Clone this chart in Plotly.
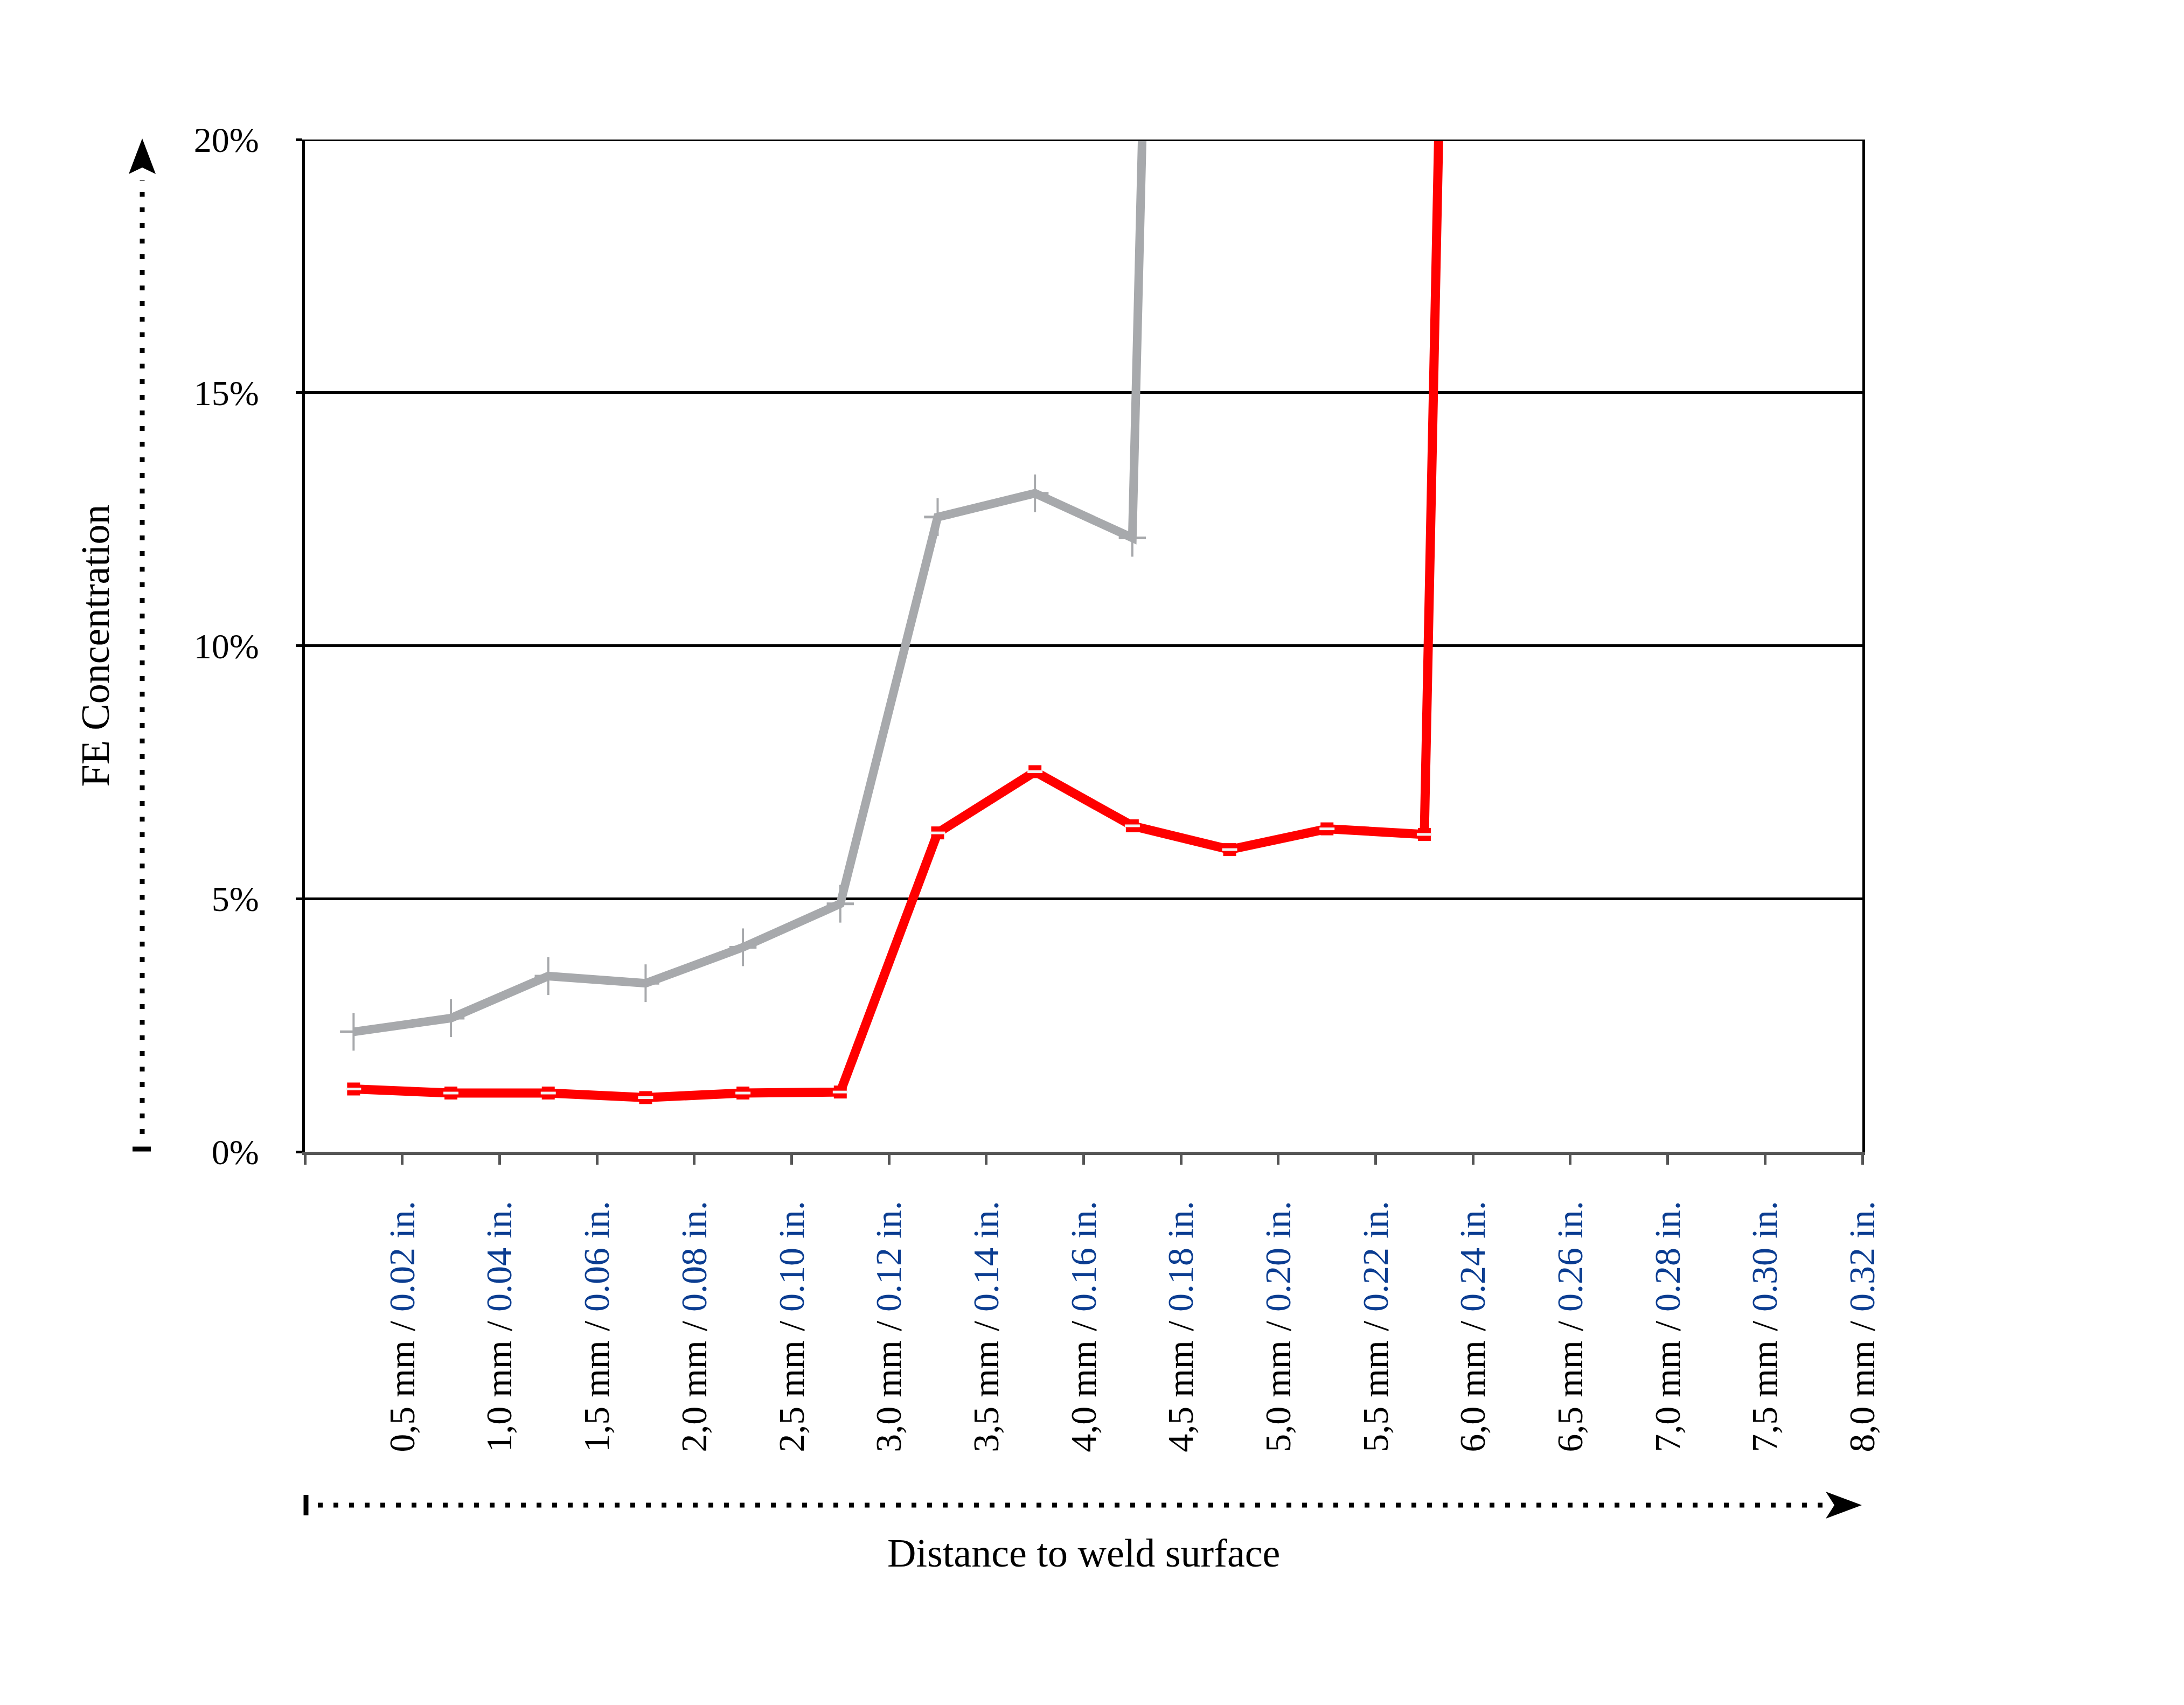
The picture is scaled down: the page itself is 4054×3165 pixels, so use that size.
import plotly.graph_objects as go

# ---------------- data ----------------
depth_mm = [0.25, 0.75, 1.25, 1.75, 2.25, 2.75, 3.25, 3.75, 4.25, 4.75, 5.25, 5.75, 6.25]
fe_gray = [2.37, 2.64, 3.47, 3.33, 4.04, 4.90, 12.54, 13.01, 12.13, 90.0]
fe_red = [1.24, 1.16, 1.16, 1.07, 1.16, 1.18, 6.30, 7.51, 6.44, 5.97, 6.38, 6.27, 100.0]

tick_mm = [0.5, 1.0, 1.5, 2.0, 2.5, 3.0, 3.5, 4.0, 4.5, 5.0, 5.5, 6.0, 6.5, 7.0, 7.5, 8.0]
tick_mm_text = ["0,5", "1,0", "1,5", "2,0", "2,5", "3,0", "3,5", "4,0",
                "4,5", "5,0", "5,5", "6,0", "6,5", "7,0", "7,5", "8,0"]
tick_in_text = ["0.02", "0.04", "0.06", "0.08", "0.10", "0.12", "0.14", "0.16",
                "0.18", "0.20", "0.22", "0.24", "0.26", "0.28", "0.30", "0.32"]
y_ticks = [0, 5, 10, 15, 20]
y_tick_text = ["0%", "5%", "10%", "15%", "20%"]

# ---------------- styling ----------------
W, H = 4054, 3165
L, R, T, B = 566, 3457, 259, 2138
FONT = "Liberation Serif"
GRAY = "#a7a9ac"
RED = "#ff0000"
BLUE = "#0b3d91"


def px(xp):
    return (xp - L) / (R - L)


def py(yp):
    return (B - yp) / (B - T)


fig = go.Figure()

n_gray = len(fe_gray)
gray_x = depth_mm[:n_gray]
# gray line
fig.add_trace(go.Scatter(x=gray_x, y=fe_gray, mode="lines",
                         line=dict(color=GRAY, width=16), showlegend=False, hoverinfo="skip"))
# gray cross markers
fig.add_trace(go.Scatter(x=gray_x[:-1], y=fe_gray[:-1], mode="markers",
                         marker=dict(symbol="line-ns-open", size=50, color=GRAY,
                                     line=dict(color=GRAY, width=4)),
                         showlegend=False, hoverinfo="skip"))
fig.add_trace(go.Scatter(x=gray_x[:-1], y=fe_gray[:-1], mode="markers",
                         marker=dict(symbol="line-ew-open", size=36, color=GRAY,
                                     line=dict(color=GRAY, width=5)),
                         showlegend=False, hoverinfo="skip"))

# red line
fig.add_trace(go.Scatter(x=depth_mm, y=fe_red, mode="lines",
                         line=dict(color=RED, width=17), showlegend=False, hoverinfo="skip"))
fig.add_trace(go.Scatter(x=depth_mm[:-1], y=fe_red[:-1], mode="markers",
                         marker=dict(symbol="square", size=24, color=RED, line=dict(width=0)),
                         showlegend=False, hoverinfo="skip"))
fig.add_trace(go.Scatter(x=depth_mm[:-1], y=fe_red[:-1], mode="markers",
                         marker=dict(symbol="line-ew-open", size=20, color="#f2f2f2",
                                     line=dict(color="#f2f2f2", width=5)),
                         showlegend=False, hoverinfo="skip"))

tickvals = [0.0] + tick_mm
ticktext = [""] + [f"{m} mm / <span style='color:{BLUE}'>{i} in.</span>"
                   for m, i in zip(tick_mm_text, tick_in_text)]

fig.update_layout(
    width=W, height=H, autosize=False,
    margin=dict(l=L, r=W - R, t=T, b=H - B, pad=0),
    paper_bgcolor="white", plot_bgcolor="white",
    font=dict(family=FONT, color="black"),
    xaxis=dict(range=[0, 8], tickmode="array", tickvals=tickvals, ticktext=ticktext,
               tickangle=-90, tickfont=dict(family=FONT, size=68, color="black"),
               ticks="outside", ticklen=18, tickwidth=5, tickcolor="#555555",
               showline=True, linecolor="#555555", linewidth=6,
               showgrid=False, zeroline=False, automargin=False, ticklabelstandoff=40),
    yaxis=dict(range=[0, 20], tickmode="array", tickvals=y_ticks, ticktext=y_tick_text,
               tickfont=dict(family=FONT, size=66, color="black"),
               ticks="outside", ticklen=12, tickwidth=5, tickcolor="black",
               showline=True, linecolor="black", linewidth=5, mirror=True,
               showgrid=True, gridcolor="black", gridwidth=5,
               zeroline=False, automargin=False, ticklabelstandoff=55),
)

shapes = []
# top gridline at 20 %
shapes.append(dict(type="line", xref="paper", yref="y", x0=px(L - 12), x1=px(R + 2), y0=20, y1=20,
                   line=dict(color="black", width=6), layer="above"))
# vertical dotted arrow (y)
ax_x = 264
shapes.append(dict(type="line", xref="paper", yref="paper",
                   x0=px(ax_x), x1=px(ax_x), y0=py(2105), y1=py(335),
                   line=dict(color="black", width=9, dash="9px,20px")))
shapes.append(dict(type="path", xref="paper", yref="paper",
                   path=(f"M {px(ax_x)} {py(257)} L {px(ax_x - 25)} {py(323)} "
                         f"L {px(ax_x)} {py(311)} L {px(ax_x + 25)} {py(323)} Z"),
                   fillcolor="black", line=dict(width=0)))
shapes.append(dict(type="line", xref="paper", yref="paper",
                   x0=px(246), x1=px(280), y0=py(2133), y1=py(2133),
                   line=dict(color="black", width=9)))
# horizontal dotted arrow (x)
ay = 2794
shapes.append(dict(type="line", xref="paper", yref="paper",
                   x0=px(590), x1=px(3395), y0=py(ay), y1=py(ay),
                   line=dict(color="black", width=9, dash="9px,20px")))
shapes.append(dict(type="path", xref="paper", yref="paper",
                   path=(f"M {px(3456)} {py(ay)} L {px(3389)} {py(ay - 25)} "
                         f"L {px(3405)} {py(ay)} L {px(3389)} {py(ay + 25)} Z"),
                   fillcolor="black", line=dict(width=0)))
shapes.append(dict(type="line", xref="paper", yref="paper",
                   x0=px(568), x1=px(568), y0=py(ay - 19), y1=py(ay + 19),
                   line=dict(color="black", width=9)))
fig.update_layout(shapes=shapes)

fig.add_annotation(text="FE Concentration", xref="paper", yref="paper",
                   x=px(176), y=0.5, xanchor="center", yanchor="middle",
                   textangle=-90, showarrow=False,
                   font=dict(family=FONT, size=74, color="black"))
fig.add_annotation(text="Distance to weld surface", xref="paper", yref="paper",
                   x=0.5, y=py(2883), xanchor="center", yanchor="middle",
                   showarrow=False, font=dict(family=FONT, size=74, color="black"))

fig.write_html("out.html")
